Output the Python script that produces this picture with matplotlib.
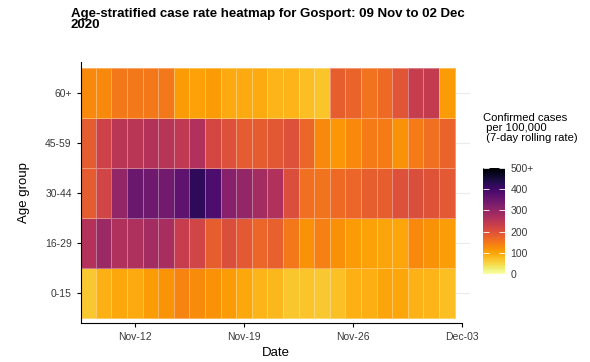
import numpy as np
import matplotlib
matplotlib.use('Agg')
import matplotlib.pyplot as plt
import matplotlib.dates as mdates
from matplotlib.colors import Normalize

plt.rcParams['font.family'] = ['Liberation Sans', 'DejaVu Sans']

##### data (cases per 100,000, 7-day rolling rate), 09 Nov .. 02 Dec 2020

dates = np.arange(np.datetime64('2020-11-09'), np.datetime64('2020-12-03'))
age_groups = ['0-15', '16-29', '30-44', '45-59', '60+']

rate_0_15 = [65, 88, 97, 95, 110, 118, 135, 128, 120, 110, 97, 85,
             82, 68, 70, 65, 74, 88, 90, 100, 98, 87, 85, 75]
rate_16_29 = [260, 290, 265, 268, 280, 275, 235, 220, 180, 205, 188, 170,
              178, 150, 120, 140, 122, 110, 105, 100, 98, 130, 120, 108]
rate_30_44 = [185, 220, 300, 350, 345, 340, 365, 420, 385, 315, 300, 280,
              265, 205, 160, 155, 165, 170, 180, 180, 200, 205, 198, 188]
rate_45_59 = [185, 225, 250, 250, 260, 255, 245, 265, 215, 200, 185, 185,
              190, 200, 170, 130, 115, 130, 145, 145, 120, 145, 160, 175]
rate_60 = [130, 130, 150, 150, 150, 150, 110, 105, 110, 95, 95, 95,
           85, 85, 75, 70, 180, 175, 155, 165, 195, 235, 240, 110]

rates = np.array([rate_0_15, rate_16_29, rate_30_44, rate_45_59, rate_60])

cbar_ticks = [0, 100, 200, 300, 400, 500]
cbar_labels = ['0', '100', '200', '300', '400', '500+']
date_ticks = np.array(['2020-11-12', '2020-11-19', '2020-11-26', '2020-12-03'],
                      dtype='datetime64[D]')

##### figure

fig = plt.figure(figsize=(5.9, 3.62), dpi=100)
ax = fig.add_axes([0.137, 0.108, 0.66, 0.721])

x_centres = mdates.date2num(dates.astype('datetime64[s]').astype(object))
x_edges = np.append(x_centres - 0.5, x_centres[-1] + 0.5)
y_edges = np.arange(len(age_groups) + 1) - 0.5

norm = Normalize(0, 500)
mesh = ax.pcolormesh(x_edges, y_edges, np.clip(rates, 0, 500), cmap='inferno_r',
                     norm=norm, edgecolors=(1, 1, 1, 0.35), linewidth=0.6)

ax.set_xlim(x_centres[0] - 0.46, x_centres[-1] + 1.5)
ax.set_ylim(-0.6, 4.62)

ax.set_yticks(range(len(age_groups)))
ax.set_yticklabels(age_groups)
ax.set_xticks(mdates.date2num(date_ticks.astype('datetime64[s]').astype(object)))
ax.xaxis.set_major_formatter(mdates.DateFormatter('%b-%d'))

ax.grid(True, axis='y', color='#EBEBEB', linewidth=0.8)
ax.set_axisbelow(True)
for s in ['top', 'right']:
    ax.spines[s].set_visible(False)
ax.spines['bottom'].set_bounds(x_centres[0] - 0.46, x_centres[-1] + 1.0)
ax.tick_params(labelsize=7.5, labelcolor='#3A3A3A', length=3, width=0.8)

ax.set_xlabel('Date', fontsize=9.5, labelpad=4)
ax.set_ylabel('Age group', fontsize=9.5, labelpad=11)

fig.text(0.12, 0.978, 'Age-stratified case rate heatmap for Gosport: 09 Nov to 02 Dec\n2020',
         fontsize=9.5, fontweight='bold', va='top', ha='left', linespacing=0.85)

##### colour bar

fig.text(0.818, 0.688, 'Confirmed cases\n per 100,000\n (7-day rolling rate)',
         fontsize=8.1, va='top', ha='left', linespacing=1.02)

cax = fig.add_axes([0.8186, 0.243, 0.0373, 0.293])
cb = fig.colorbar(mesh, cax=cax, ticks=cbar_ticks)
cb.outline.set_visible(False)
cb.ax.set_yticklabels(cbar_labels)
cb.ax.yaxis.set_ticks_position('both')
cb.ax.tick_params(direction='in', length=4, color='white', width=0.6,
                  labelsize=7.5, labelcolor='#3A3A3A', labelleft=False, labelright=True, pad=4)

plt.savefig('out.png')
